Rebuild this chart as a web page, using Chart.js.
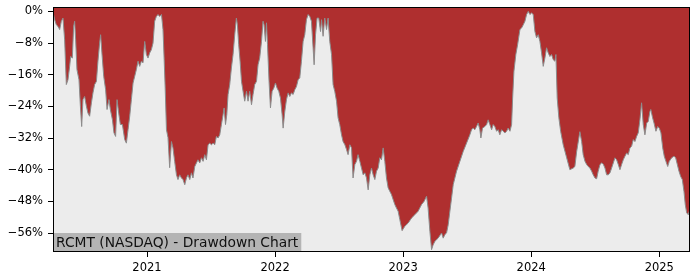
<!DOCTYPE html>
<html>
<head>
<meta charset="utf-8">
<script src="https://cdn.jsdelivr.net/npm/chart.js@4/dist/chart.umd.min.js"></script>
<style>
  html, body { margin: 0; padding: 0; background: #ffffff; }
  #wrap { width: 700px; height: 280px; }
</style>
</head>
<body>
<div id="wrap"><canvas id="c" width="700" height="280"></canvas></div>
<script>
// ---- data ----
const title = "RCMT (NASDAQ) - Drawdown Chart";

// time in decimal years
const dates = [
  2020.266,2020.279,2020.292,2020.305,2020.318,2020.331,2020.344,2020.357,2020.370,2020.383,
  2020.396,2020.404,2020.417,2020.427,2020.435,2020.443,2020.453,2020.469,2020.480,2020.490,
  2020.500,2020.513,2020.527,2020.539,2020.552,2020.566,2020.578,2020.591,2020.605,2020.617,
  2020.630,2020.638,2020.648,2020.662,2020.677,2020.688,2020.703,2020.714,2020.730,2020.742,
  2020.755,2020.766,2020.779,2020.792,2020.808,2020.826,2020.839,2020.852,2020.865,2020.878,
  2020.891,2020.904,2020.917,2020.930,2020.943,2020.956,2020.969,2020.982,2020.995,2021.008,
  2021.021,2021.034,2021.047,2021.060,2021.073,2021.086,2021.099,2021.113,2021.125,2021.134,
  2021.142,2021.152,2021.164,2021.177,2021.191,2021.203,2021.216,2021.230,2021.242,2021.255,
  2021.269,2021.281,2021.295,2021.308,2021.320,2021.334,2021.347,2021.359,2021.373,2021.386,
  2021.398,2021.412,2021.425,2021.438,2021.451,2021.464,2021.477,2021.490,2021.503,2021.516,
  2021.529,2021.542,2021.555,2021.568,2021.581,2021.594,2021.602,2021.613,2021.623,2021.633,
  2021.646,2021.659,2021.672,2021.685,2021.698,2021.706,2021.716,2021.727,2021.738,2021.750,
  2021.763,2021.777,2021.789,2021.802,2021.816,2021.828,2021.841,2021.855,2021.867,2021.880,
  2021.894,2021.906,2021.914,2021.925,2021.933,2021.941,2021.953,2021.964,2021.977,2021.990,
  2022.003,2022.016,2022.029,2022.042,2022.055,2022.063,2022.076,2022.089,2022.102,2022.115,
  2022.128,2022.141,2022.154,2022.167,2022.180,2022.193,2022.206,2022.219,2022.232,2022.245,
  2022.258,2022.271,2022.284,2022.297,2022.305,2022.316,2022.328,2022.341,2022.355,2022.363,
  2022.375,2022.388,2022.402,2022.414,2022.427,2022.441,2022.453,2022.466,2022.480,2022.492,
  2022.505,2022.519,2022.531,2022.545,2022.558,2022.570,2022.584,2022.597,2022.609,2022.623,
  2022.636,2022.648,2022.662,2022.675,2022.688,2022.701,2022.714,2022.727,2022.740,2022.753,
  2022.766,2022.779,2022.792,2022.805,2022.818,2022.831,2022.844,2022.857,2022.870,2022.883,
  2022.909,2022.935,2022.948,2022.961,2022.974,2022.992,2023.013,2023.039,2023.066,2023.091,
  2023.117,2023.144,2023.164,2023.183,2023.195,2023.209,2023.222,2023.234,2023.248,2023.273,
  2023.300,2023.313,2023.326,2023.339,2023.352,2023.365,2023.378,2023.391,2023.417,2023.443,
  2023.469,2023.495,2023.521,2023.534,2023.547,2023.560,2023.573,2023.586,2023.599,2023.607,
  2023.620,2023.638,2023.652,2023.664,2023.677,2023.691,2023.703,2023.716,2023.730,2023.742,
  2023.755,2023.769,2023.781,2023.795,2023.808,2023.820,2023.834,2023.847,2023.855,2023.865,
  2023.880,2023.894,2023.912,2023.925,2023.938,2023.951,2023.964,2023.977,2023.990,2024.003,
  2024.016,2024.029,2024.042,2024.055,2024.068,2024.081,2024.094,2024.107,2024.120,2024.133,
  2024.146,2024.159,2024.172,2024.185,2024.193,2024.203,2024.216,2024.230,2024.250,2024.277,
  2024.302,2024.328,2024.341,2024.355,2024.380,2024.394,2024.406,2024.420,2024.433,2024.445,
  2024.459,2024.472,2024.484,2024.498,2024.511,2024.523,2024.537,2024.550,2024.563,2024.576,
  2024.589,2024.602,2024.615,2024.628,2024.641,2024.654,2024.667,2024.680,2024.693,2024.706,
  2024.719,2024.732,2024.745,2024.758,2024.771,2024.784,2024.797,2024.810,2024.823,2024.836,
  2024.849,2024.862,2024.875,2024.888,2024.902,2024.914,2024.927,2024.934,2024.948,2024.959,
  2024.974,2024.988,2025.000,2025.013,2025.027,2025.039,2025.052,2025.066,2025.078,2025.097,
  2025.115,2025.128,2025.141,2025.154,2025.167,2025.180,2025.193,2025.203,2025.214,2025.227,
  2025.234
];

// drawdown in percent
const drawdown = [
  -0.2,-2.1,-3.4,-3.8,-4.6,-2.5,-1.7,-7.2,-18.5,-17.3,
  -13.9,-11.4,-11.8,-3.8,-2.5,-7.2,-14.7,-17.3,-24.0,-29.1,
  -22.3,-21.5,-24.0,-25.7,-26.5,-23.1,-20.6,-18.5,-17.7,-12.6,
  -8.0,-5.9,-10.5,-16.4,-19.8,-24.8,-22.3,-24.8,-27.4,-30.7,
  -31.6,-22.3,-25.7,-28.6,-28.6,-32.4,-33.3,-29.9,-26.5,-22.3,
  -18.1,-16.4,-14.7,-12.6,-13.9,-12.6,-13.0,-7.6,-10.9,-11.8,
  -10.5,-9.7,-8.0,-2.5,-1.3,-0.8,-1.3,-0.8,-4.6,-12.2,
  -19.3,-29.9,-31.9,-39.5,-32.9,-34.5,-37.9,-41.3,-42.5,-41.3,
  -42.1,-42.5,-43.8,-42.1,-41.3,-42.5,-40.8,-42.1,-39.2,-38.3,
  -37.5,-38.3,-37.0,-37.9,-36.2,-37.5,-33.7,-33.3,-33.7,-33.3,
  -33.7,-31.6,-32.0,-31.2,-28.6,-26.1,-24.4,-28.6,-26.1,-21.0,
  -18.5,-14.3,-10.9,-5.9,-1.7,-3.4,-8.4,-12.6,-17.7,-20.2,
  -22.7,-20.2,-22.7,-20.2,-23.6,-21.0,-18.5,-17.7,-13.5,-11.8,
  -7.6,-2.5,-3.4,-7.6,-2.9,-8.4,-17.7,-24.4,-20.2,-19.4,
  -18.1,-19.4,-20.2,-21.9,-26.1,-29.5,-25.3,-22.3,-20.6,-21.5,
  -20.6,-21.0,-19.8,-19.0,-17.3,-16.8,-12.6,-7.6,-5.9,-2.1,
  -0.8,-1.3,-2.5,-9.2,-13.5,-5.9,-1.7,-1.7,-5.1,-2.1,
  -6.3,-1.7,-4.6,-1.7,-7.6,-10.9,-18.5,-20.2,-22.7,-26.9,
  -28.6,-31.2,-32.9,-33.7,-34.9,-36.2,-33.7,-34.5,-42.1,-38.7,
  -37.9,-36.2,-37.9,-39.6,-41.3,-40.8,-42.1,-45.1,-41.3,-39.6,
  -41.3,-42.5,-40.4,-39.6,-37.0,-37.5,-34.5,-37.9,-42.1,-44.6,
  -46.3,-48.8,-49.7,-50.5,-52.6,-55.4,-54.3,-53.5,-52.2,-51.4,
  -50.5,-48.8,-48.0,-46.7,-49.7,-55.6,-60.2,-59.0,-58.1,-57.3,
  -56.0,-57.3,-56.4,-56.0,-53.9,-50.5,-47.2,-43.8,-40.4,-37.9,
  -35.4,-33.3,-31.2,-29.9,-29.5,-29.9,-29.1,-28.2,-29.9,-32.0,
  -29.5,-29.1,-28.6,-27.4,-28.6,-29.9,-28.6,-29.1,-30.3,-29.9,
  -31.2,-29.9,-30.3,-30.7,-30.3,-29.5,-30.3,-28.6,-21.9,-15.2,
  -10.9,-8.4,-4.6,-4.2,-3.4,-2.5,-0.8,0.0,-0.8,-0.4,
  -0.8,-5.1,-6.7,-5.9,-7.6,-10.5,-13.9,-11.8,-9.2,-10.5,
  -11.4,-10.9,-12.2,-12.6,-10.9,-21.9,-26.9,-30.3,-33.7,-37.0,
  -40.0,-39.6,-39.2,-35.4,-30.4,-32.9,-36.2,-37.9,-38.7,-39.2,
  -39.6,-40.4,-41.3,-42.1,-42.3,-40.4,-38.7,-38.3,-38.6,-39.6,
  -41.3,-41.3,-40.8,-39.6,-38.3,-37.0,-37.5,-38.7,-40.0,-38.7,
  -37.5,-36.6,-35.8,-36.2,-34.5,-34.1,-32.4,-32.9,-31.6,-30.7,
  -27.4,-23.1,-28.6,-31.2,-28.2,-27.8,-25.3,-24.8,-26.9,-28.2,
  -30.3,-29.1,-29.5,-30.7,-34.5,-36.6,-37.9,-39.2,-37.9,-37.0,
  -36.6,-37.0,-38.7,-40.4,-41.7,-42.5,-45.5,-48.8,-50.9,-51.4,
  -50.5
];

const xTicks = [2021, 2022, 2023, 2024, 2025];
const yTicks = [0, -8, -16, -24, -32, -40, -48, -56];

// ---- chart ----
const points = dates.map((d, i) => ({ x: d, y: drawdown[i] }));
const tickFont = { family: "'DejaVu Sans', sans-serif", size: 11.5 };

const decor = {
  id: 'decor',
  beforeDatasetsDraw(chart) {
    const { ctx, chartArea: a } = chart;
    ctx.save();
    ctx.fillStyle = '#ececec';
    ctx.fillRect(a.left, a.top, a.right - a.left, a.bottom - a.top);
    ctx.restore();
  },
  afterDatasetsDraw(chart) {
    const { ctx, chartArea: a } = chart;
    ctx.save();
    ctx.font = "13.8px 'DejaVu Sans', sans-serif";
    const w = ctx.measureText(title).width;
    ctx.fillStyle = '#b4b4b4';
    ctx.fillRect(a.left, a.bottom - 19, w + 6, 19);
    ctx.fillStyle = '#111111';
    ctx.textBaseline = 'alphabetic';
    ctx.textAlign = 'left';
    ctx.fillText(title, a.left + 3, a.bottom - 5.5);
    ctx.strokeStyle = '#000000';
    ctx.lineWidth = 1;
    ctx.strokeRect(a.left + 0.5, a.top + 0.5, a.right - a.left - 1, a.bottom - a.top - 1);
    ctx.restore();
  }
};

new Chart(document.getElementById('c'), {
  type: 'line',
  data: {
    datasets: [{
      data: points,
      fill: 'end',
      backgroundColor: '#af2f2f',
      borderColor: '#8c8c8c',
      borderWidth: 1,
      pointRadius: 0,
      tension: 0
    }]
  },
  options: {
    responsive: false,
    animation: false,
    events: [],
    layout: { padding: { top: 7, right: 10, left: 0, bottom: 0 } },
    plugins: { legend: { display: false }, tooltip: { enabled: false } },
    scales: {
      x: {
        type: 'linear',
        min: 2020.266,
        max: 2025.24,
        afterBuildTicks: (s) => { s.ticks = xTicks.map(v => ({ value: v })); },
        afterFit: (s) => { s.height = 28; s.paddingLeft = 0; s.paddingRight = 0; },
        grid: { display: true, drawOnChartArea: false, drawTicks: true, tickLength: 5, tickColor: '#000', tickWidth: 1 },
        border: { display: false },
        ticks: { font: tickFont, color: '#000', padding: 4, maxRotation: 0, callback: (v) => String(v) }
      },
      y: {
        type: 'linear',
        min: -60.8,
        max: 1.1,
        afterBuildTicks: (s) => { s.ticks = yTicks.map(v => ({ value: v })); },
        afterFit: (s) => { s.width = 53; s.paddingTop = 0; s.paddingBottom = 0; },
        grid: { display: true, drawOnChartArea: false, drawTicks: true, tickLength: 5, tickColor: '#000', tickWidth: 1 },
        border: { display: false },
        ticks: { font: tickFont, color: '#000', padding: 5,
                 callback: (v) => (v < 0 ? '\u2212' + Math.abs(v) : String(v)) + '%' }
      }
    }
  },
  plugins: [decor]
});
</script>
</body>
</html>
